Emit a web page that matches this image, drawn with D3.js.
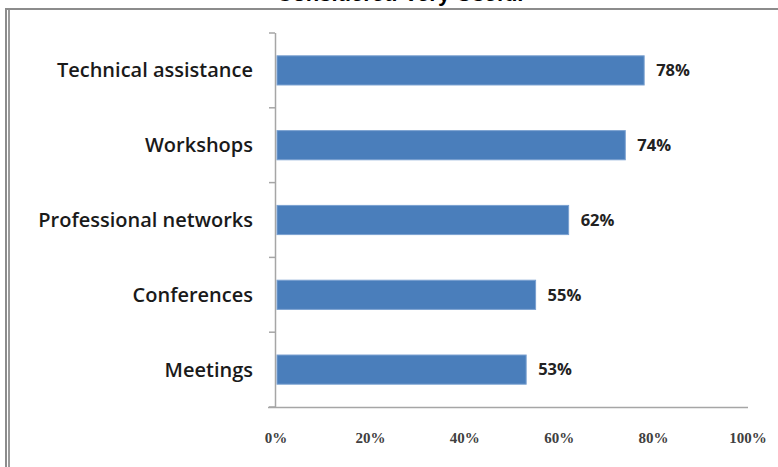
<!DOCTYPE html>
<html>
<head>
<meta charset="utf-8">
<script src="https://cdn.jsdelivr.net/npm/d3@7"></script>
<style>
  html, body { margin: 0; padding: 0; background: #fff; }
  svg { display: block; }
</style>
</head>
<body>
<svg id="chart" width="778" height="467"></svg>
<script>
// Share of respondents rating each resource as very useful
const categories = ["Technical assistance", "Workshops", "Professional networks", "Conferences", "Meetings"];
const values = [78, 74, 62, 55, 53];
const xTicks = [0, 20, 40, 60, 80, 100];
const title = "Considered Very Useful";

const svg = d3.select("#chart");
const W = 778, H = 467;

// Outer frame: double gray rule on the left, single rule on top
svg.append("rect").attr("x", 0).attr("y", 0).attr("width", W).attr("height", H).attr("fill", "#fff");
svg.append("rect").attr("x", 5).attr("y", 8).attr("width", W).attr("height", 2).attr("fill", "#8c8c8c");
svg.append("rect").attr("x", 5).attr("y", 8).attr("width", 2).attr("height", H).attr("fill", "#8c8c8c");
svg.append("rect").attr("x", 8).attr("y", 10).attr("width", 2).attr("height", H).attr("fill", "#9a9a9a");

// Title sits mostly above the visible area
svg.append("text")
  .attr("x", 400).attr("y", 1)
  .attr("text-anchor", "middle")
  .attr("font-family", "Liberation Sans, Arial, sans-serif")
  .attr("font-weight", "bold")
  .attr("font-size", 22)
  .attr("fill", "#000")
  .text(title);

const x = d3.scaleLinear().domain([0, 100]).range([276, 748]);
const y = d3.scaleBand().domain(categories).range([33, 407]).paddingInner(0.61).paddingOuter(0.305);

// Axis lines
const axisColor = "#a6a6a6";
svg.append("line").attr("x1", 275.5).attr("x2", 275.5).attr("y1", 33).attr("y2", 407)
  .attr("stroke", axisColor).attr("stroke-width", 1.5);
svg.append("line").attr("x1", 268).attr("x2", 748).attr("y1", 407.5).attr("y2", 407.5)
  .attr("stroke", axisColor).attr("stroke-width", 1.5);

// Category separators on the vertical axis
const step = y.step();
const boundaries = d3.range(categories.length + 1).map(i => 33 + i * step);
svg.selectAll("line.ytick").data(boundaries).join("line")
  .attr("class", "ytick")
  .attr("x1", 269).attr("x2", 275)
  .attr("y1", d => d).attr("y2", d => d)
  .attr("stroke", axisColor).attr("stroke-width", 1.5);

// Bars
svg.selectAll("rect.bar").data(values).join("rect")
  .attr("class", "bar")
  .attr("x", x(0) + 1)
  .attr("y", (d, i) => y(categories[i]))
  .attr("width", d => x(d) - x(0) - 1)
  .attr("height", y.bandwidth())
  .attr("fill", "#4a7ebb")
  .attr("stroke", "#7aa0d0")
  .attr("stroke-width", 1);

// Value labels
svg.selectAll("text.val").data(values).join("text")
  .attr("class", "val")
  .attr("x", d => x(d) + 12)
  .attr("y", (d, i) => y(categories[i]) + y.bandwidth() / 2)
  .attr("dy", "0.35em")
  .attr("font-family", "Open Sans, sans-serif")
  .attr("font-weight", "bold")
  .attr("font-size", 16.5)
  .attr("fill", "#222")
  .text(d => d + "%");

// Category labels
svg.selectAll("text.cat").data(categories).join("text")
  .attr("class", "cat")
  .attr("x", 253)
  .attr("y", d => y(d) + y.bandwidth() / 2)
  .attr("dy", "0.35em")
  .attr("text-anchor", "end")
  .attr("font-family", "Open Sans, sans-serif")
  .attr("font-weight", 600)
  .attr("font-size", 20)
  .attr("fill", "#1a1a1a")
  .text(d => d);

// X tick labels
svg.selectAll("text.xt").data(xTicks).join("text")
  .attr("class", "xt")
  .attr("x", d => x(d))
  .attr("y", 438)
  .attr("dy", "0.35em")
  .attr("text-anchor", "middle")
  .attr("font-family", "Liberation Serif, DejaVu Serif, serif")
  .attr("font-weight", "bold")
  .attr("font-size", 15)
  .attr("fill", "#404040")
  .text(d => d + "%");
</script>
</body>
</html>
